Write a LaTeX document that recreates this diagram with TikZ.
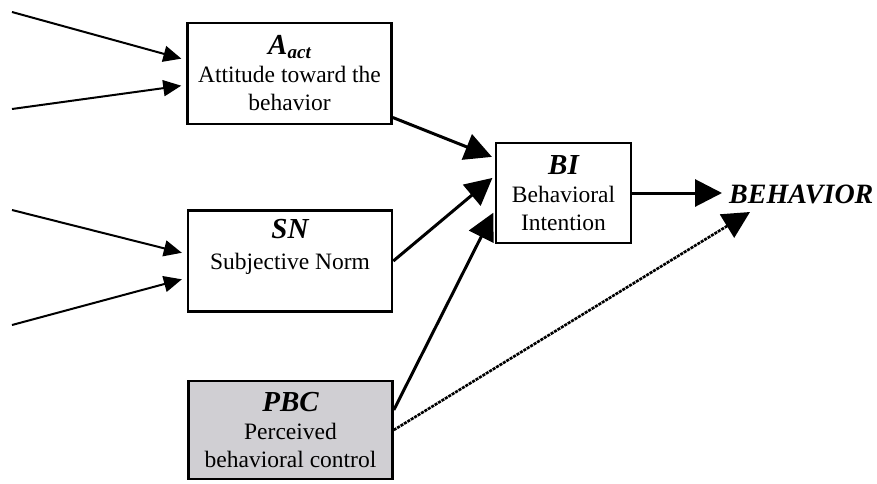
\documentclass[tikz,border=0pt]{standalone}
\usepackage{fontspec}
\setmainfont{Liberation Serif}
\usetikzlibrary{arrows.meta}
\definecolor{pbcgray}{RGB}{208,207,211}
\newcommand\mytitle[1]{{\fontsize{29}{30}\selectfont\bfseries\itshape #1}}
\begin{document}
\begin{tikzpicture}[x=1pt,y=-1pt,
  box/.style={draw,line width=2.6pt,align=center,inner sep=0pt,
    minimum width=204pt,minimum height=101pt,
    font=\fontsize{23.5}{28}\selectfont},
  arr/.style={line width=3pt,-{Triangle[length=27pt,width=27pt]}},
  inarr/.style={line width=2pt,-{Triangle[length=18pt,width=16pt]}}]
\useasboundingbox (0,0) rectangle (877,483);

\node[box] (Aact) at (289.5,73.5) {\mytitle{A\raisebox{-4pt}{\fontsize{19}{19}\selectfont act}}\\Attitude toward the\\behavior};
\node[box] (SN) at (290,261) {\mytitle{SN}\\[3pt]Subjective Norm\\[6pt]};
\node[box,fill=pbcgray,minimum height=98pt] (PBC) at (290.5,430) {\mytitle{PBC}\\Perceived\\behavioral control};
\node[box,minimum width=135pt,minimum height=100pt] (BI) at (563.5,193) {\mytitle{BI}\\Behavioral\\Intention};
\node[anchor=base west,inner sep=2pt,font=\fontsize{28}{30}\selectfont\bfseries\itshape] (BEH) at (727,203) {BEHAVIOR};

\coordinate (i1) at (12,12);
\coordinate (i2) at (12,109);
\coordinate (i3) at (12,210);
\coordinate (i4) at (12,325);
\coordinate (bend) at (750,212);

\draw[inarr,shorten >=5pt] (i1) -- ([yshift=13.5pt]Aact.west);
\draw[inarr,shorten >=5pt] (i2) -- ([yshift=-11.5pt]Aact.west);
\draw[inarr,shorten >=5pt] (i3) -- ([yshift=7pt]SN.west);
\draw[inarr,shorten >=5pt] (i4) -- ([yshift=-17pt]SN.west);

\draw[arr,shorten >=3pt] ([yshift=-44pt]Aact.east) -- ([yshift=35pt]BI.west);
\draw[arr,shorten >=3pt] (SN.east) -- ([yshift=17pt]BI.west);
\draw[arr,shorten >=3pt] ([yshift=20pt]PBC.east) -- ([yshift=-17pt]BI.west);
\draw[arr,shorten >=5pt] (BI.east) -- (BI.east -| BEH.west);
\draw[arr,line width=2.6pt,dash pattern=on 3pt off 1pt] (PBC.east) -- (bend);
\end{tikzpicture}
\end{document}
